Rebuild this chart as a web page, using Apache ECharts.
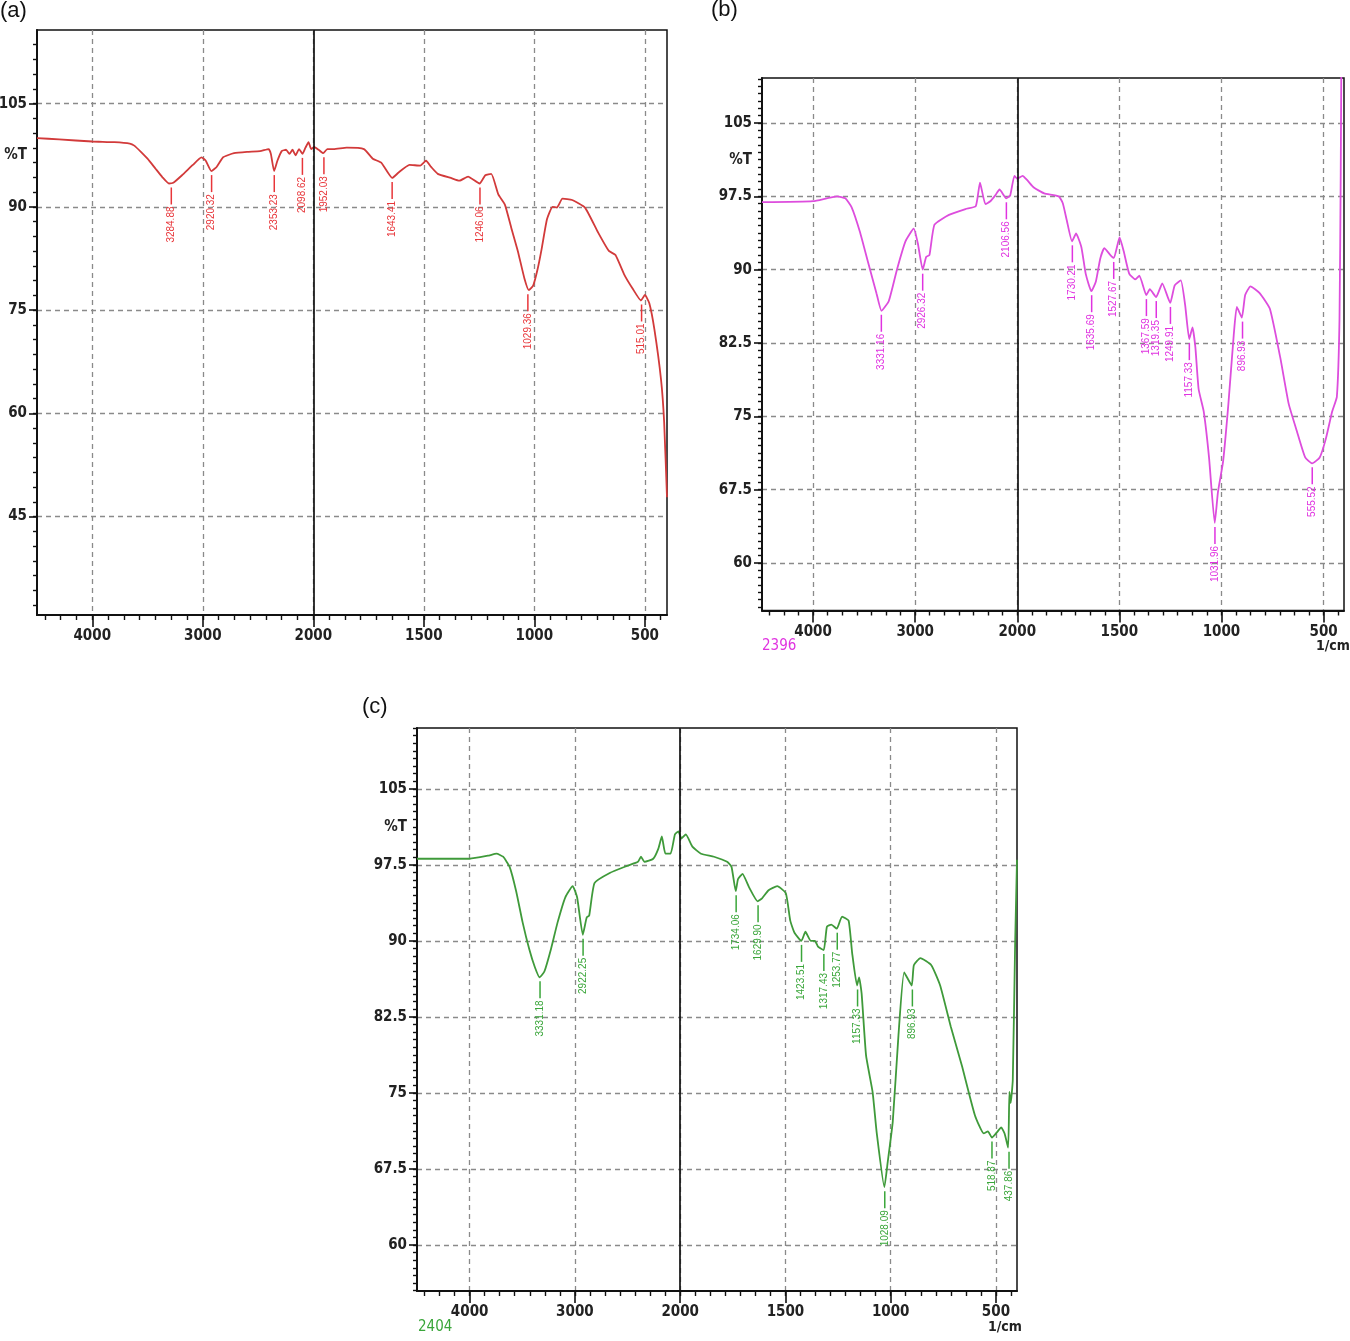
<!DOCTYPE html>
<html>
<head>
<meta charset="utf-8">
<script src="https://cdn.jsdelivr.net/npm/echarts@6.0.0/dist/echarts.min.js"></script>
<style>html,body{margin:0;padding:0;background:#fff}#c{width:1350px;height:1341px}</style>
</head>
<body>
<div id="c"></div>
<script>
// ---------------- DATA ----------------
// x tick labels (wavenumber, 1/cm)
const xTickLabels = [4000, 3000, 2000, 1500, 1000, 500];
// y tick labels
const yTicksA = [45, 60, 75, 90, 105];
const yTicksBC = [60, 67.5, 75, 82.5, 90, 97.5, 105];

// spectrum (a): [wavenumber, %T]
const spectrumA = [
  [4500,100.0],[4300,99.8],[4000,99.5],[3800,99.4],[3660,99.2],[3620,98.9],[3560,98.0],[3500,97.0],[3430,95.6],[3365,94.3],
  [3306,93.4],[3267,93.5],[3188,94.6],[3090,96.1],[3012,97.2],[2973,96.7],[2922,95.2],[2875,95.8],[2816,97.2],[2718,97.8],
  [2600,98.0],[2482,98.1],[2404,98.4],[2384,97.7],[2355,95.2],[2325,96.7],[2286,98.1],[2247,98.3],[2216,97.7],[2188,98.3],
  [2161,97.5],[2129,98.4],[2098,97.7],[2071,98.6],[2043,99.4],[2020,98.4],[1996,98.7],[1976,98.3],[1955,97.8],[1937,98.4],
  [1908,98.4],[1849,98.6],[1771,98.4],[1731,97.0],[1692,96.4],[1643,94.2],[1614,95.0],[1565,96.1],[1516,96.0],[1490,96.7],
  [1467,95.8],[1437,94.8],[1378,94.2],[1339,93.8],[1300,94.4],[1248,93.4],[1222,94.6],[1195,94.8],[1163,91.8],[1133,90.3],
  [1104,86.9],[1075,83.6],[1045,79.6],[1025,77.9],[1005,78.6],[985,81.0],[967,83.9],[943,88.2],[918,90.0],[898,89.9],
  [873,91.2],[829,91.0],[771,89.9],[712,86.3],[663,83.6],[633,83.0],[594,80.2],[555,78.1],[518,76.4],[500,77.2],
  [480,76.0],[457,72.2],[427,64.9],[413,58.8],[400,47.8]
];
const peakLabelsA = ['3284.88','2920.32','2353.23','2098.62','1952.03','1643.41','1246.06','1029.36','515.01'];
const peakWnA = [3284.88, 2920.32, 2353.23, 2098.62, 1952.03, 1643.41, 1246.06, 1029.36, 515.01];
const peakTA = [93.4, 95.2, 95.2, 97.7, 97.8, 94.2, 93.4, 77.9, 76.4];

// spectrum (b)
const spectrumB = [
  [4500,96.9],[4000,97.0],[3765,97.5],[3684,97.3],[3623,96.4],[3542,93.9],[3460,90.7],[3379,87.6],[3330,85.8],[3258,86.8],
  [3176,90.1],[3095,92.9],[3014,94.2],[2974,92.7],[2926,90.0],[2892,91.3],[2860,91.5],[2811,94.6],[2669,95.6],[2507,96.2],
  [2406,96.5],[2365,98.9],[2312,96.7],[2264,97.0],[2215,97.6],[2174,98.2],[2108,97.3],[2069,97.6],[2028,99.6],[2000,99.3],
  [1974,99.6],[1949,99.1],[1919,98.4],[1868,97.8],[1797,97.5],[1777,96.8],[1757,95.0],[1732,92.9],[1712,93.7],[1686,92.3],
  [1665,89.6],[1637,87.8],[1615,88.8],[1594,91.1],[1574,92.2],[1544,91.5],[1527,91.2],[1499,93.3],[1479,91.9],[1452,89.6],
  [1422,89.0],[1402,89.4],[1368,87.4],[1351,88.0],[1320,87.2],[1290,88.6],[1251,86.6],[1229,88.4],[1199,88.9],[1178,86.4],
  [1158,82.9],[1142,84.1],[1128,82.1],[1112,77.8],[1087,75.5],[1061,70.8],[1033,64.1],[1017,67.3],[992,70.4],[966,76.3],
  [940,83.3],[925,86.2],[900,85.1],[884,87.4],[858,88.3],[813,87.6],[763,86.0],[712,81.0],[671,76.3],[631,73.5],
  [590,70.8],[556,70.2],[519,70.8],[489,72.7],[458,75.5],[435,77.0],[422,85.0],[416,100.0],[412,115.0]
];
const peakLabelsB = ['3331.16','2926.32','2106.56','1730.21','1635.69','1527.67','1367.59','1319.35','1249.91','1157.33','1031.96','896.93','555.52'];
const peakWnB = [3331.16, 2926.32, 2106.56, 1730.21, 1635.69, 1527.67, 1367.59, 1319.35, 1249.91, 1157.33, 1031.96, 896.93, 555.52];
const peakTB = [85.8, 90.0, 97.3, 92.9, 87.8, 91.2, 87.4, 87.2, 86.6, 82.9, 64.1, 85.1, 70.2];

// spectrum (c)
const spectrumC = [
  [4500,98.1],[4000,98.1],[3826,98.4],[3744,98.6],[3682,98.3],[3620,97.3],[3558,94.9],[3496,91.8],[3434,89.2],[3380,87.4],
  [3335,86.4],[3289,87.0],[3227,89.2],[3165,91.8],[3091,94.3],[3021,95.4],[2979,94.3],[2925,90.6],[2888,92.3],[2864,92.5],
  [2814,95.7],[2669,96.7],[2504,97.4],[2401,97.8],[2372,98.3],[2339,97.8],[2256,98.1],[2207,99.1],[2174,100.3],[2140,98.6],
  [2091,98.6],[2050,100.5],[2017,100.8],[1994,100.1],[1973,100.5],[1942,99.3],[1901,98.6],[1839,98.3],[1777,97.8],[1756,97.3],
  [1736,94.9],[1725,96.1],[1704,96.6],[1673,95.3],[1632,93.9],[1611,94.2],[1580,95.0],[1539,95.4],[1498,94.7],[1477,92.0],
  [1457,90.8],[1424,90.0],[1405,90.9],[1380,90.0],[1360,90.0],[1344,89.4],[1318,89.1],[1303,91.4],[1282,91.6],[1256,91.2],
  [1231,92.4],[1200,92.0],[1183,88.8],[1160,85.6],[1150,86.4],[1138,84.8],[1117,78.7],[1086,75.1],[1066,71.0],[1030,65.7],
  [1014,68.2],[990,72.2],[963,80.7],[936,86.9],[900,85.6],[890,87.6],[859,88.3],[807,87.6],[765,85.6],[714,81.5],
  [662,77.7],[600,72.8],[558,71.0],[538,71.2],[519,70.6],[496,71.1],[475,71.6],[459,71.0],[442,69.6],[436,75.1],
  [430,74.0],[420,76.3],[409,89.6],[400,98.0]
];
const peakLabelsC = ['3331.18','2922.25','1734.06','1629.90','1423.51','1317.43','1253.77','1157.33','1028.09','896.93','518.87','437.86'];
const peakWnC = [3331.18, 2922.25, 1734.06, 1629.90, 1423.51, 1317.43, 1253.77, 1157.33, 1028.09, 896.93, 518.87, 437.86];
const peakTC = [86.4, 90.6, 94.9, 93.9, 90.0, 89.1, 91.2, 85.6, 65.7, 85.6, 70.6, 69.6];

// ---------------- AXIS MAPPING (instrument scale: x2 expansion below 2000 1/cm) ----------------
const toU = w => (w <= 2000 ? w : 2000 + (w - 2000) / 2);
const toWn = u => (u <= 2000 ? u : 2000 + (u - 2000) * 2);
const U_MIN = toU(400), U_MAX = toU(4500);

// ---------------- LAYOUT / STYLE ----------------
const FONT = "'Liberation Sans Narrow', 'DejaVu Sans Condensed', 'Liberation Sans', sans-serif";
const panels = [
  {grid:{left:37, top:30, width:630, height:585}, yMin:30.7, yMax:115.7, yTicks:yTicksA, pct:97.5,
   yBase:45, yStep:15/7, line:'#d23a3a', text:'#e8363a',
   data:spectrumA, pw:peakWnA, pt:peakTA, pl:peakLabelsA},
  {grid:{left:762, top:78, width:582, height:532.5}, yMin:55.15, yMax:109.6, yTicks:yTicksBC, pct:101.25,
   yBase:60, yStep:0.75, line:'#dd4ddd', text:'#e033e0',
   data:spectrumB, pw:peakWnB, pt:peakTB, pl:peakLabelsB},
  {grid:{left:417, top:728, width:600, height:563}, yMin:55.46, yMax:111.0, yTicks:yTicksBC, pct:101.25,
   yBase:60, yStep:0.75, line:'#3f9a3a', text:'#3aa63a',
   data:spectrumC, pw:peakWnC, pt:peakTC, pl:peakLabelsC}
];

const xMajorU = xTickLabels.map(toU);
const xMinorU = [];
for (let k = -3; k < 60; k++) {
  const u = 500 + k * 500 / 7;
  if (u >= U_MIN - 1e-6 && u <= U_MAX + 1e-6) xMinorU.push(u);
}

const grids = [], xAxes = [], yAxes = [], series = [];
panels.forEach((p, i) => {
  grids.push(Object.assign({show:true, borderColor:'#111', borderWidth:1.5, backgroundColor:'transparent',
    containLabel:false, outerBoundsMode:'none'}, p.grid));
  const yMinor = [];
  for (let k = -40; k < 80; k++) {
    const v = p.yBase + k * p.yStep;
    if (v >= p.yMin - 1e-6 && v <= p.yMax + 1e-6) yMinor.push(+v.toFixed(4));
  }
  // main x axis
  xAxes.push({
    gridIndex:i, type:'value', min:U_MIN, max:U_MAX, inverse:true, position:'bottom',
    axisLine:{show:true, onZero:false, lineStyle:{color:'#111', width:2}},
    axisTick:{show:true, customValues:xMajorU, length:12, lineStyle:{color:'#111', width:1.6}},
    axisLabel:{show:true, customValues:xMajorU, formatter:v => String(Math.round(toWn(v))),
      margin:14, fontSize:15, fontWeight:'bold', fontFamily:FONT, color:'#222'},
    splitLine:{show:true, lineStyle:{color:'#8a8a8a', type:[5,4], width:1.3}}
  });
  // minor x ticks
  xAxes.push({
    gridIndex:i, type:'value', min:U_MIN, max:U_MAX, inverse:true, position:'bottom',
    axisLine:{show:false},
    axisTick:{show:true, customValues:xMinorU, length:5, lineStyle:{color:'#111', width:1.4}},
    axisLabel:{show:false}, splitLine:{show:false}
  });
  // main y axis
  yAxes.push({
    gridIndex:i, type:'value', min:p.yMin, max:p.yMax, position:'left',
    axisLine:{show:true, onZero:false, lineStyle:{color:'#111', width:2}},
    axisTick:{show:true, customValues:p.yTicks, length:8, lineStyle:{color:'#111', width:1.6}},
    axisLabel:{show:true, customValues:p.yTicks.concat([p.pct]),
      formatter:v => (Math.abs(v - p.pct) < 1e-6 ? '%T' : String(v)),
      margin:10, fontSize:15, fontWeight:'bold', fontFamily:FONT, color:'#222'},
    splitLine:{show:true, lineStyle:{color:'#8a8a8a', type:[5,4], width:1.3}}
  });
  // minor y ticks
  yAxes.push({
    gridIndex:i, type:'value', min:p.yMin, max:p.yMax, position:'left',
    axisLine:{show:false},
    axisTick:{show:true, customValues:yMinor, length:4, lineStyle:{color:'#111', width:1.4}},
    axisLabel:{show:false}, splitLine:{show:false}
  });
  series.push({
    type:'line', xAxisIndex:2*i, yAxisIndex:2*i,
    data:p.data.map(d => [toU(d[0]), d[1]]),
    showSymbol:false, symbol:'none', smooth:0.15, clip:true, z:3,
    lineStyle:{color:p.line, width:1.8},
    markLine:{silent:true, symbol:['none','none'], label:{show:false},
      lineStyle:{color:'#111', width:1.7, type:'solid'},
      data:[{xAxis:toU(2000)}]}
  });
  const labels = p.pl, col = p.text;
  series.push({
    type:'custom', xAxisIndex:2*i, yAxisIndex:2*i, z:4, clip:false,
    data:p.pw.map((w, k) => [toU(w), p.pt[k], k]),
    renderItem:(params, api) => {
      const c = api.coord([api.value(0), api.value(1)]);
      const txt = labels[api.value(2)];
      return {type:'group', children:[
        {type:'line', shape:{x1:c[0], y1:c[1] + 4, x2:c[0], y2:c[1] + 21},
         style:{stroke:col, lineWidth:1.5}},
        {type:'text', x:c[0], y:c[1] + 23, rotation:Math.PI / 2,
         style:{text:txt, fill:col, font:"10px 'Liberation Sans', Arial, sans-serif",
                align:'right', verticalAlign:'middle', textAlign:'right', textVerticalAlign:'middle'}}
      ]};
    }
  });
});

const graphic = [
  {type:'text', left:0, top:0, style:{text:'(a)', font:"22px 'Liberation Sans', Arial, sans-serif", fill:'#111'}},
  {type:'text', left:711, top:-1, style:{text:'(b)', font:"22px 'Liberation Sans', Arial, sans-serif", fill:'#111'}},
  {type:'text', left:362, top:696, style:{text:'(c)', font:"22px 'Liberation Sans', Arial, sans-serif", fill:'#111'}},
  {type:'text', left:762, top:639, style:{text:'2396', font:"15px " + FONT, fill:'#e033e0'}},
  {type:'text', left:1316, top:639, style:{text:'1/cm', font:"bold 14px " + FONT, fill:'#222'}},
  {type:'text', left:418, top:1320, style:{text:'2404', font:"15px " + FONT, fill:'#3aa63a'}},
  {type:'text', left:988, top:1320, style:{text:'1/cm', font:"bold 14px " + FONT, fill:'#222'}}
];

const chart = echarts.init(document.getElementById('c'), null, {renderer:'canvas'});
chart.setOption({
  animation:false, backgroundColor:'#fff',
  grid:grids, xAxis:xAxes, yAxis:yAxes, series:series, graphic:graphic
});
</script>
</body>
</html>
